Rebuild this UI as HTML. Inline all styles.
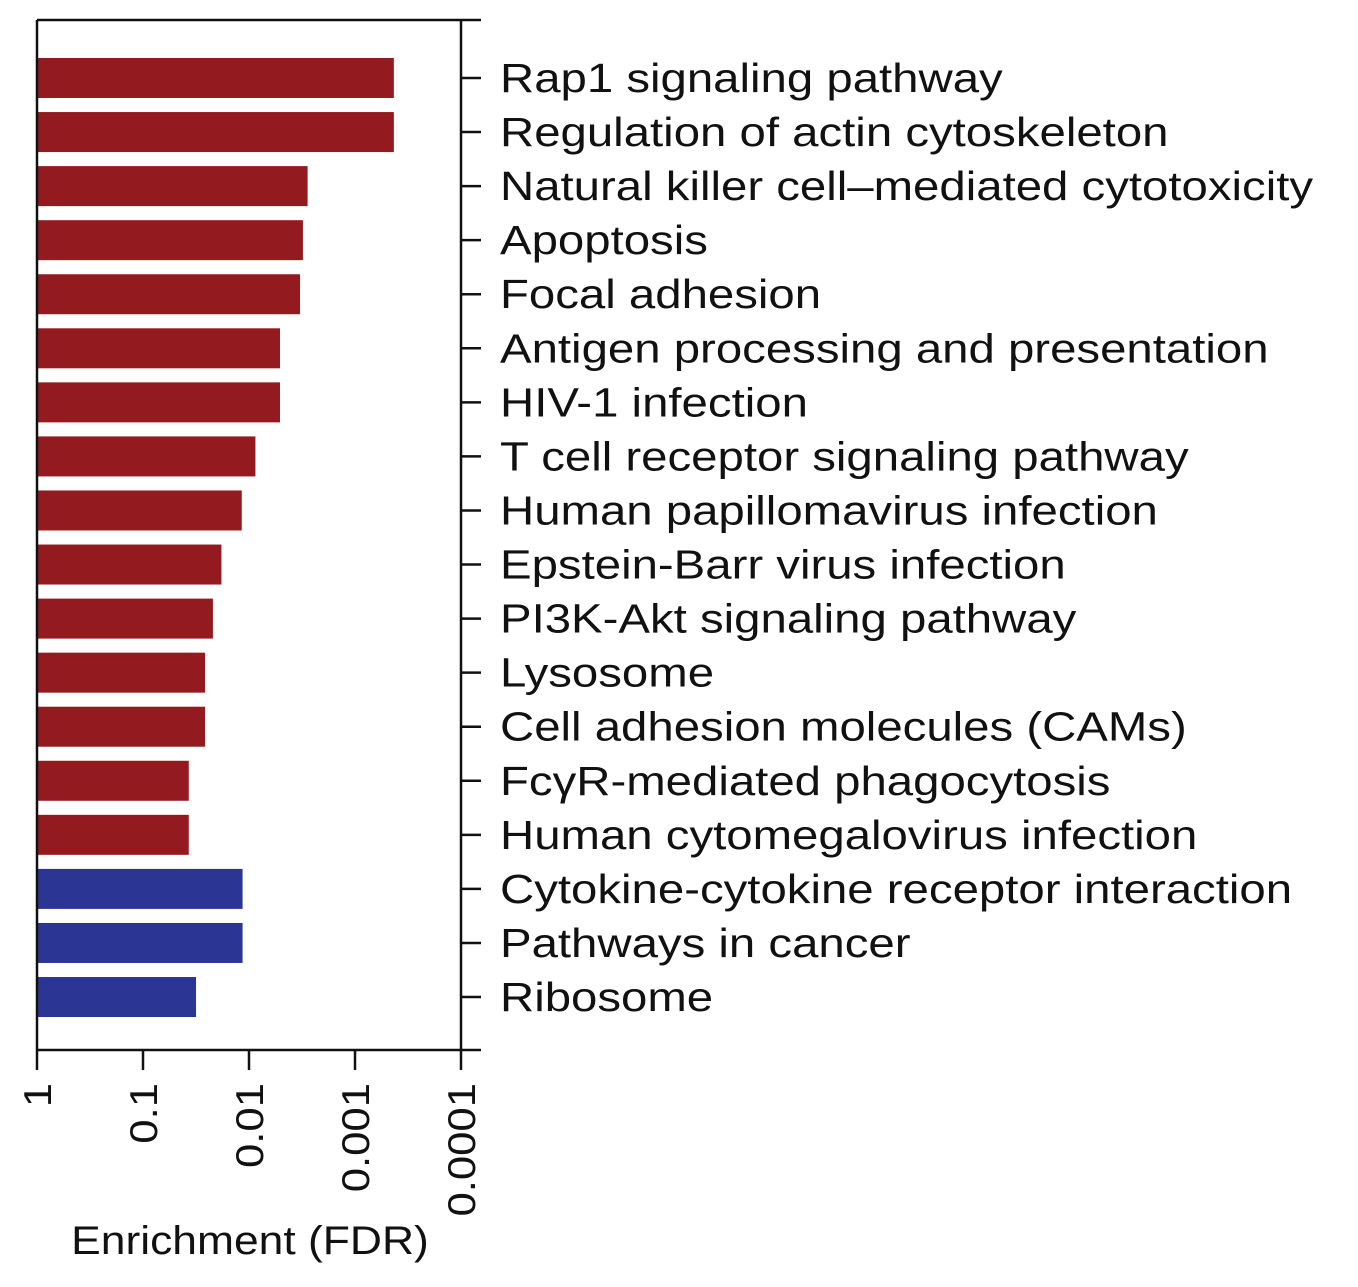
<!DOCTYPE html>
<html><head><meta charset="utf-8"><style>
body{margin:0;background:#fff;}
svg text{font-family:"Liberation Sans",sans-serif;fill:#111;}
</style></head><body>
<svg id="chart" width="1358" height="1282" xmlns="http://www.w3.org/2000/svg"></svg>
<script>
const categories=["Rap1 signaling pathway","Regulation of actin cytoskeleton","Natural killer cell–mediated cytotoxicity","Apoptosis","Focal adhesion","Antigen processing and presentation","HIV-1 infection","T cell receptor signaling pathway","Human papillomavirus infection","Epstein-Barr virus infection","PI3K-Akt signaling pathway","Lysosome","Cell adhesion molecules (CAMs)","FcγR-mediated phagocytosis","Human cytomegalovirus infection","Cytokine-cytokine receptor interaction","Pathways in cancer","Ribosome"];
const fdrValues=[0.00043,0.00043,0.0028,0.0031,0.0033,0.0051,0.0051,0.0087,0.0117,0.0182,0.0219,0.026,0.026,0.037,0.037,0.0115,0.0115,0.0316];
const directions=["up","up","up","up","up","up","up","up","up","up","up","up","up","up","up","down","down","down"];
const tickValues=[1,0.1,0.01,0.001,0.0001];
const tickLabels=["1","0.1","0.01","0.001","0.0001"];
const svg=document.getElementById('chart');
const NS="http://www.w3.org/2000/svg";
const X0=37,X1=461,Y0=20,Y1=1050;
const xScale=v=>X0+(X1-X0)*(-Math.log10(v))/4;
const yScale=i=>78+i*54.06;
function mk(tag,attrs,parent){const e=document.createElementNS(NS,tag);for(const k in attrs)e.setAttribute(k,attrs[k]);(parent||svg).appendChild(e);return e;}
const ln=(x1,y1,x2,y2,n)=>{const e=mk('line',{x1,y1,x2,y2,stroke:'#111','stroke-width':2.5});

};
categories.forEach((c,i)=>{
  const y=yScale(i);
  const r=mk('rect',{x:X0,y:y-20,width:xScale(fdrValues[i])-X0,height:40,fill:directions[i]==='up'?'#931b1f':'#2b3594'});
  
  
  ln(X1,y,X1+20,y,'y-tick');
  const t=mk('text',{x:0,y:0,'font-size':41,transform:`translate(500,${y+14}) scale(1.155,1)`});
  t.textContent=c;
  
  
});
ln(X0,Y0,X1+20,Y0,'top-axis');
ln(X0,Y1,X1+20,Y1,'x-axis');
ln(X0,Y0,X0,Y1,'left-axis');
ln(X1,Y0,X1,Y1,'y-axis');
tickValues.forEach((v,i)=>{
  const x=xScale(v);
  ln(x,Y1,x,Y1+20,'x-tick');
  const t=mk('text',{x:0,y:0,'font-size':39,'text-anchor':'end',transform:`translate(${x+14},1083) rotate(-90) scale(1.12,1)`});
  t.textContent=tickLabels[i];
  
  
});
const xt=mk('text',{x:0,y:0,'font-size':40,'text-anchor':'middle',transform:'translate(250,1254) scale(1.11,1)'});
xt.textContent="Enrichment (FDR)";


</script>
</body></html>
